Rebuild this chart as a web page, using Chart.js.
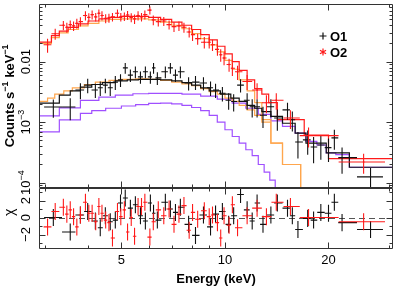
<!DOCTYPE html>
<html>
<head>
<meta charset="utf-8">
<script src="https://cdn.jsdelivr.net/npm/chart.js@4.4.1/dist/chart.umd.min.js"></script>
<style>
  html, body { margin: 0; padding: 0; background: #fff; }
  #wrap { width: 399px; height: 288px; }
</style>
</head>
<body>
<div id="wrap"><canvas id="spec" width="399" height="288"></canvas></div>
<script>
// O2 spectrum (red): bin centre (keV), rate (counts s-1 keV-1), 1 sigma, residual (chi)
const o2Energy = [3.05, 3.21, 3.39, 3.47, 3.55, 3.63, 3.71, 3.80, 3.93, 4.02, 4.11, 4.21, 4.30, 4.39, 4.50, 4.60, 4.71, 4.87, 4.98, 5.10,
  5.21, 5.34, 5.46, 5.59, 5.72, 5.85, 6.05, 6.19, 6.40, 6.64, 6.88, 7.11, 7.35, 7.60, 7.87, 8.05, 8.33, 8.71, 9.00, 9.20,
  9.51, 9.72, 9.94, 10.28, 10.51, 10.88, 11.6, 12.4, 13.2, 14.1, 15.5, 17.5, 25.3];
const o2Rate = [0.019, 0.029, 0.040, 0.037, 0.041, 0.039, 0.043, 0.046, 0.058, 0.054, 0.060, 0.055, 0.063, 0.058, 0.052, 0.053, 0.055, 0.063, 0.055, 0.056,
  0.059, 0.054, 0.051, 0.058, 0.055, 0.060, 0.071, 0.049, 0.046, 0.047, 0.041, 0.038, 0.039, 0.037, 0.031, 0.028, 0.024, 0.021, 0.021, 0.019,
  0.016, 0.013, 0.0115, 0.0090, 0.0078, 0.0068, 0.0047, 0.0034, 0.0021, 0.0023, 0.00117, 0.0006, 0.00022];
const o2Err = [0.005, 0.006, 0.007, 0.007, 0.007, 0.007, 0.008, 0.008, 0.010, 0.009, 0.010, 0.009, 0.010, 0.010, 0.009, 0.009, 0.009, 0.010, 0.009, 0.009,
  0.010, 0.009, 0.009, 0.010, 0.009, 0.010, 0.011, 0.009, 0.008, 0.008, 0.007, 0.007, 0.007, 0.007, 0.006, 0.006, 0.005, 0.0045, 0.0045, 0.004,
  0.0035, 0.003, 0.0028, 0.0022, 0.002, 0.0018, 0.0013, 0.001, 0.0007, 0.0007, 0.0004, 0.00022, 0.00008];
const o2Chi = [-1.1, 0.7, 1.2, 0.4, 0.9, 0.1, -1.1, 0.3, 1.8, 0.5, 0.5, -0.5, 1.3, 0.5, -0.3, -0.6, -2.4, 0.7, 0.1, 0.9,
  -1.7, 0.0, -2.2, 1.3, 1.3, 1.8, -2.3, -0.5, 0.9, 0.2, 1.0, -0.8, 0.4, 1.4, -1.5, 0.6, -0.2, 0.8, 0.1, 0.3,
  -0.6, -2.4, 0.2, -0.9, 1.5, -1.2, 0.2, 1.1, 0.1, 1.8, 1.3, 0.0, -0.5];

// O1 spectrum (black)
const o1Energy = [3.17, 3.55, 3.80, 3.99, 4.20, 4.34, 4.49, 4.64, 4.80, 4.97, 5.13, 5.31, 5.49, 5.68, 5.87, 6.07, 6.20, 6.36, 6.71, 6.94,
  7.18, 7.42, 7.84, 8.21, 8.66, 9.08, 9.39, 9.83, 10.25, 10.6, 11.1, 11.6, 12.0, 12.4, 12.9, 13.6, 14.2, 15.2, 15.7, 16.3,
  17.4, 18.1, 19.0, 20.0, 20.8, 21.9, 26.5];
const o1Rate = [1.78e-3, 1.78e-3, 3.4e-3, 4.1e-3, 3.4e-3, 3.7e-3, 4.1e-3, 3.7e-3, 4.6e-3, 5.0e-3, 7.9e-3, 6.0e-3, 6.8e-3, 5.6e-3, 6.8e-3, 5.6e-3, 7.9e-3, 5.4e-3, 6.8e-3, 7.9e-3,
  6.0e-3, 6.8e-3, 4.45e-3, 4.6e-3, 4.45e-3, 3.7e-3, 3.4e-3, 3.0e-3, 2.3e-3, 2.2e-3, 4.1e-3, 2.3e-3, 1.8e-3, 1.8e-3, 1.3e-3, 1.8e-3, 1.17e-3, 1.6e-3, 1.1e-3, 4.7e-4,
  5.1e-4, 3.9e-4, 4.2e-4, 3.8e-4, 5.5e-4, 2.6e-4, 1.25e-4];
const o1Err = [6e-4, 7e-4, 1.0e-3, 1.1e-3, 9e-4, 1.0e-3, 1.1e-3, 1.0e-3, 1.2e-3, 1.2e-3, 1.6e-3, 1.4e-3, 1.5e-3, 1.3e-3, 1.5e-3, 1.3e-3, 1.6e-3, 1.3e-3, 1.5e-3, 1.6e-3,
  1.4e-3, 1.5e-3, 1.1e-3, 1.2e-3, 1.1e-3, 1.0e-3, 9e-4, 8e-4, 7e-4, 7e-4, 1.0e-3, 7e-4, 6e-4, 6e-4, 5e-4, 6e-4, 4.5e-4, 5e-4, 4e-4, 2.2e-4,
  2.2e-4, 1.8e-4, 1.8e-4, 1.6e-4, 2.0e-4, 1.2e-4, 5e-5];
const o1Chi = [0.0, -1.7, 0.3, 0.7, -0.4, -1.2, 0.2, -0.5, -0.3, 1.7, 2.3, 1.1, 1.5, 0.2, -0.4, 1.7, 0.5, -0.3, 1.8, 1.0,
  0.6, 1.2, -0.8, -2.1, 0.3, -1.1, 0.4, 0.7, -0.8, 0.2, 2.7, 0.9, -0.4, 1.7, -0.8, 0.3, 1.7, 1.1, 0.2, -1.4,
  -0.1, -0.3, 0.6, 0.5, 1.8, -0.6, -1.4];

// folded models: left bin edge (keV) and level, last entry closes the final bin
const o2ModelE = [2.88, 3.13, 3.3, 3.5, 3.75, 4.0, 4.3, 4.6, 5.0, 5.5, 6.0, 6.5, 7.0, 7.5, 8.0, 8.5, 9.0, 9.5, 10.0, 10.5, 11.0, 11.6, 12.2, 12.8, 13.4, 14.2, 17.0, 20.0, 31.0];
const o2Model = [0.021, 0.027, 0.032, 0.037, 0.042, 0.047, 0.051, 0.054, 0.056, 0.056, 0.054, 0.050, 0.045, 0.040, 0.034, 0.028, 0.023, 0.018, 0.0135, 0.010, 0.0072, 0.0050, 0.0036, 0.0029, 0.0021, 0.0011, 0.00061, 0.00025, 0.00025];
const o1ModelE = [2.88, 3.3, 3.55, 3.8, 4.1, 4.4, 4.8, 5.2, 5.6, 6.0, 6.5, 7.0, 7.5, 8.0, 8.5, 9.0, 9.7, 10.4, 11.0, 11.6, 12.2, 12.8, 13.6, 14.7, 16.0, 17.2, 19.7, 23.0, 31.0];
const o1Model = [2.07e-3, 2.8e-3, 3.3e-3, 3.8e-3, 4.2e-3, 4.5e-3, 4.8e-3, 5.0e-3, 5.1e-3, 5.1e-3, 5.0e-3, 4.8e-3, 4.5e-3, 4.1e-3, 3.7e-3, 3.3e-3, 2.9e-3, 2.5e-3, 2.2e-3, 1.9e-3, 1.7e-3, 1.5e-3, 1.25e-3, 9.6e-4, 6.6e-4, 4.5e-4, 3.1e-4, 1.8e-4, 1.8e-4];
const orangeO2E = [2.88, 3.13, 3.3, 3.5, 3.75, 4.0, 4.3, 4.6, 5.0, 5.5, 6.0, 6.5, 7.0, 7.5, 8.0, 8.5, 9.0, 9.5, 10.0, 10.5, 11.0, 11.6, 12.2, 12.8, 13.6, 14.7, 16.6, 31.0];
const orangeO2 = [0.020, 0.025, 0.030, 0.034, 0.039, 0.043, 0.047, 0.050, 0.051, 0.051, 0.049, 0.045, 0.040, 0.035, 0.029, 0.024, 0.019, 0.0145, 0.0105, 0.0075, 0.0050, 0.0033, 0.0021, 0.0010, 0.00045, 0.00020, 1e-6, 1e-6];
const orangeO1E = [2.88, 3.05, 3.2, 3.4, 3.6, 3.9, 4.2, 4.6, 5.0, 5.5, 6.0, 6.5, 7.0, 7.5, 8.0, 8.5, 9.0, 9.5, 10.0, 10.5, 11.0, 11.6, 12.2, 12.8, 13.6, 14.7, 16.6, 31.0];
const orangeO1 = [0.0022, 0.0025, 0.0029, 0.0033, 0.0037, 0.0042, 0.0046, 0.0049, 0.0051, 0.0052, 0.0051, 0.0049, 0.0046, 0.0043, 0.0040, 0.0036, 0.0032, 0.0029, 0.0025, 0.0022, 0.0019, 0.0016, 0.0013, 0.0011, 0.00045, 0.00020, 1e-6, 1e-6];
const purpleHiE = [2.88, 3.3, 3.8, 4.3, 4.8, 5.4, 6.0, 6.7, 7.5, 8.5, 9.5, 10.5, 11.5, 12.5, 13.6, 14.7, 16.0, 17.2, 18.5, 19.7, 21.0, 23.0, 31.0];
const purpleHi = [1.27e-3, 1.72e-3, 2.3e-3, 2.6e-3, 2.8e-3, 2.95e-3, 3.0e-3, 3.0e-3, 2.9e-3, 2.7e-3, 2.4e-3, 2.07e-3, 1.7e-3, 1.35e-3, 1.05e-3, 8.5e-4, 6.6e-4, 4.8e-4, 4.2e-4, 3.1e-4, 2.9e-4, 1.8e-4, 1.8e-4];
const purpleLoE = [2.88, 3.3, 3.8, 4.1, 4.5, 5.0, 5.5, 6.0, 6.5, 7.0, 7.5, 8.0, 8.5, 9.0, 9.5, 10.0, 10.5, 11.0, 11.5, 12.0, 12.5, 13.0, 13.5, 14.0, 31.0];
const purpleLo = [6.9e-4, 1.09e-3, 1.4e-3, 1.55e-3, 1.7e-3, 1.85e-3, 1.95e-3, 2.05e-3, 2.07e-3, 2.0e-3, 1.9e-3, 1.75e-3, 1.55e-3, 1.3e-3, 1.0e-3, 7.5e-4, 5.8e-4, 4.5e-4, 3.5e-4, 2.8e-4, 2.0e-4, 1.5e-4, 1.1e-4, 6e-5, 6e-5];

// axes
const xMajorTicks = [5, 10, 20];
const xMinorTicks = [3, 4, 6, 7, 8, 9, 30];
const rateTicks = [1e-4, 1e-3, 0.01];
const rateTickLabels = [['10', '\u22124'], ['10', '\u22123'], ['0.01', '']];
const chiTicks = [-2, 0, 2];
const chiTickLabels = ['\u22122', '0', '2'];
const legendLabels = ['O1', 'O2'];

const FONT = '"Liberation Sans", Arial, Helvetica, sans-serif';
const RED = '#ff1a1a';
const BLACK = '#111111';
const ORANGE = '#ffa64d';
const PURPLE = '#a050ff';

function binEdges(energy) {
  const n = energy.length;
  return energy.map((e, i) => {
    const lo = i > 0 ? (energy[i - 1] + e) / 2 : e - (energy[1] - e) / 2;
    const hi = i < n - 1 ? (e + energy[i + 1]) / 2 : e + (e - energy[i - 1]) / 2;
    return [lo, hi];
  });
}

function spectrum(energy, vals, errs) {
  const ed = binEdges(energy);
  return energy.map((e, i) => ({ x: e, y: vals[i], xlo: ed[i][0], xhi: ed[i][1], ylo: vals[i] - errs[i], yhi: vals[i] + errs[i] }));
}

function residuals(energy, chi) {
  const ed = binEdges(energy);
  return energy.map((e, i) => ({ x: e, y: chi[i], xlo: ed[i][0], xhi: ed[i][1], ylo: chi[i] - 1, yhi: chi[i] + 1 }));
}

function steps(energy, vals) {
  return energy.map((e, i) => ({ x: e, y: vals[i] }));
}

function modelLine(label, data, color) {
  return { label, data, borderColor: color, borderWidth: 1.2, pointRadius: 0, stepped: 'before', fill: false, yAxisID: 'y' };
}

function dataPoints(label, data, color, axis, radius) {
  return { label, data, borderColor: color, backgroundColor: color, pointRadius: radius, pointStyle: 'rect',
    borderWidth: 0, showLine: false, yAxisID: axis, errorBars: true };
}

// error bars for binned data, drawn through the scales and clipped to the dataset's panel
const errorBars = {
  id: 'errorBars',
  afterDatasetsDraw(chart) {
    const ctx = chart.ctx;
    const xs = chart.scales.x;
    chart.data.datasets.forEach((ds, i) => {
      if (!ds.errorBars || !chart.isDatasetVisible(i)) return;
      const ys = chart.scales[ds.yAxisID];
      ctx.save();
      ctx.beginPath();
      ctx.rect(xs.left, ys.top, xs.right - xs.left, ys.bottom - ys.top);
      ctx.clip();
      ctx.strokeStyle = ds.borderColor;
      ctx.lineWidth = 1.1;
      ds.data.forEach(p => {
        const px = xs.getPixelForValue(p.x);
        const py = ys.getPixelForValue(p.y);
        const lo = (ys.type === 'logarithmic' && p.ylo <= 0) ? ys.bottom : ys.getPixelForValue(p.ylo);
        ctx.beginPath();
        ctx.moveTo(xs.getPixelForValue(p.xlo), py);
        ctx.lineTo(xs.getPixelForValue(p.xhi), py);
        ctx.moveTo(px, ys.getPixelForValue(p.yhi));
        ctx.lineTo(px, lo);
        ctx.stroke();
      });
      ctx.restore();
    });
  }
};

function rotText(ctx, cx, cy, parts, size, weight) {
  const base = `${weight} ${size}px ${FONT}`;
  const sup = `${weight} ${Math.round(size * 0.7)}px ${FONT}`;
  ctx.save();
  ctx.translate(cx, cy);
  ctx.rotate(-Math.PI / 2);
  ctx.textBaseline = 'middle';
  ctx.textAlign = 'left';
  let w = 0;
  parts.forEach(([t, s]) => { ctx.font = s ? sup : base; w += ctx.measureText(t).width; });
  let px = -w / 2;
  parts.forEach(([t, s]) => {
    ctx.font = s ? sup : base;
    ctx.fillText(t, px, s ? -size * 0.33 : 0);
    px += ctx.measureText(t).width;
  });
  ctx.restore();
}

// frames, inward ticks, y labels, titles, legend
const decor = {
  id: 'decor',
  beforeDatasetsDraw(chart) {
    const { ctx, scales: { x, r } } = chart;
    const y0 = Math.round(r.getPixelForValue(0)) + 0.5;
    ctx.save();
    ctx.strokeStyle = '#555';
    ctx.lineWidth = 1;
    ctx.setLineDash([6, 4]);
    ctx.beginPath();
    ctx.moveTo(x.left, y0);
    ctx.lineTo(x.right, y0);
    ctx.stroke();
    ctx.restore();
  },
  afterDraw(chart) {
    const { ctx, scales: { x, y, r } } = chart;
    const L = Math.round(x.left) + 0.5, R = Math.round(x.right) - 0.5;
    ctx.save();
    ctx.strokeStyle = '#333';
    ctx.lineWidth = 1;
    ctx.beginPath();
    [y, r].forEach(s => {
      const T = Math.round(s.top) + 0.5, B = Math.round(s.bottom) - 0.5;
      ctx.rect(L, T, R - L, B - T);
      xMajorTicks.concat(xMinorTicks).forEach(v => {
        const px = Math.round(x.getPixelForValue(v)) + 0.5;
        const len = xMajorTicks.includes(v) ? 6 : 3;
        ctx.moveTo(px, T); ctx.lineTo(px, T + len);
        ctx.moveTo(px, B); ctx.lineTo(px, B - len);
      });
    });
    for (let d = -5; d <= -1; d++) {
      for (let k = 1; k <= 9; k++) {
        const v = k * Math.pow(10, d);
        if (v < y.min || v > y.max) continue;
        const py = Math.round(y.getPixelForValue(v)) + 0.5;
        const len = k === 1 ? 6 : 3;
        ctx.moveTo(L, py); ctx.lineTo(L + len, py);
        ctx.moveTo(R, py); ctx.lineTo(R - len, py);
      }
    }
    for (let v = -3; v <= 3; v++) {
      const py = Math.round(r.getPixelForValue(v)) + 0.5;
      const len = v % 2 === 0 ? 6 : 3;
      ctx.moveTo(L, py); ctx.lineTo(L + len, py);
      ctx.moveTo(R, py); ctx.lineTo(R - len, py);
    }
    ctx.stroke();

    ctx.fillStyle = '#000';
    const labelX = x.left - 13;
    rateTicks.forEach((v, i) => {
      const [b, s] = rateTickLabels[i];
      rotText(ctx, labelX, y.getPixelForValue(v), [[b, false], [s, true]], 13, 'normal');
    });
    chiTicks.forEach((v, i) => {
      rotText(ctx, labelX, r.getPixelForValue(v), [[chiTickLabels[i], false]], 13, 'normal');
    });
    rotText(ctx, 10, (y.top + y.bottom) / 2,
      [['Counts s', false], ['\u22121', true], [' keV', false], ['\u22121', true]], 13, 'bold');
    rotText(ctx, 10, (r.top + r.bottom) / 2 - 6, [['\u03c7', false]], 14, 'normal');

    // legend
    const lx = x.right - 70, ly = y.top + 32;
    ctx.strokeStyle = BLACK;
    ctx.lineWidth = 1.2;
    ctx.beginPath();
    ctx.moveTo(lx - 3.5, ly); ctx.lineTo(lx + 3.5, ly);
    ctx.moveTo(lx, ly - 3.5); ctx.lineTo(lx, ly + 3.5);
    ctx.stroke();
    ctx.strokeStyle = RED;
    ctx.beginPath();
    for (let a = 0; a < 3; a++) {
      const ang = Math.PI / 2 + a * Math.PI / 3;
      ctx.moveTo(lx - 3.5 * Math.cos(ang), ly + 16 - 3.5 * Math.sin(ang));
      ctx.lineTo(lx + 3.5 * Math.cos(ang), ly + 16 + 3.5 * Math.sin(ang));
    }
    ctx.stroke();
    ctx.font = `bold 13px ${FONT}`;
    ctx.textBaseline = 'middle';
    ctx.textAlign = 'left';
    ctx.fillText(legendLabels[0], lx + 7, ly + 1);
    ctx.fillText(legendLabels[1], lx + 7, ly + 17);
    ctx.restore();
  }
};

const datasets = [
  dataPoints('O1', spectrum(o1Energy, o1Rate, o1Err), BLACK, 'y', 0),
  dataPoints('O2', spectrum(o2Energy, o2Rate, o2Err), RED, 'y', 1),
  dataPoints('O1 chi', residuals(o1Energy, o1Chi), BLACK, 'r', 0),
  dataPoints('O2 chi', residuals(o2Energy, o2Chi), RED, 'r', 1),
  modelLine('O1 model', steps(o1ModelE, o1Model), BLACK),
  modelLine('O2 model', steps(o2ModelE, o2Model), RED),
  modelLine('O1 comp 1', steps(orangeO1E, orangeO1), ORANGE),
  modelLine('O2 comp 1', steps(orangeO2E, orangeO2), ORANGE),
  modelLine('comp 2a', steps(purpleHiE, purpleHi), PURPLE),
  modelLine('comp 2b', steps(purpleLoE, purpleLo), PURPLE)
];

const hidden = { display: false, drawTicks: false };

new Chart(document.getElementById('spec'), {
  type: 'line',
  data: { datasets },
  options: {
    responsive: false,
    animation: false,
    layout: { padding: { left: 0, top: 4, right: 6, bottom: 0 } },
    plugins: { legend: { display: false }, tooltip: { enabled: false } },
    scales: {
      x: {
        type: 'logarithmic', min: 2.88, max: 30.8, position: 'bottom',
        grid: hidden, border: { display: false },
        afterBuildTicks: s => { s.ticks = xMajorTicks.map(v => ({ value: v })); },
        ticks: { autoSkip: false, maxRotation: 0, padding: 4, color: '#000',
          font: { size: 13, family: FONT }, callback: v => String(v) },
        title: { display: true, text: 'Energy (keV)', color: '#000',
          font: { size: 13, weight: 'bold', family: FONT }, padding: { top: 0, bottom: 1 } },
        afterFit: s => { s.height = 39; }
      },
      r: {
        type: 'linear', min: -3.7, max: 3.5, position: 'left', stack: 'panels', stackWeight: 1,
        ticks: { display: false }, grid: hidden, border: { display: false },
        afterFit: s => { s.width = 39; }
      },
      y: {
        type: 'logarithmic', min: 8.25e-5, max: 0.0898, position: 'left', stack: 'panels', stackWeight: 3,
        ticks: { display: false }, grid: hidden, border: { display: false },
        afterFit: s => { s.width = 39; }
      }
    }
  },
  plugins: [errorBars, decor]
});
</script>
</body>
</html>
